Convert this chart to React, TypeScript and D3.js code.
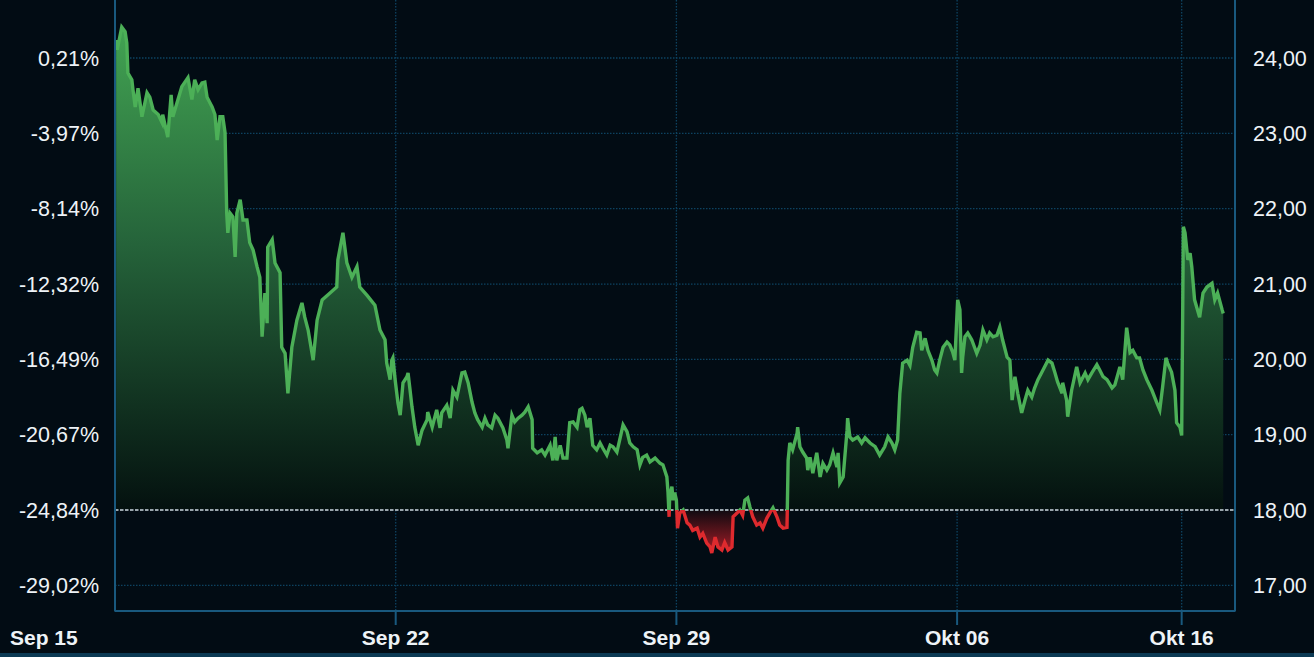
import * as d3 from 'd3'

const W = 1314, H = 657
const M = { top: 0, right: 79, bottom: 46, left: 115 }

// trading-day offset from Sep 15 open, price
const trace: [number, number][] = [
  [0.02,24.24],[0.04,24.11],[0.12,24.41],[0.18,24.35],[0.21,24.20],[0.23,23.80],[0.30,23.71],[0.32,23.58],[0.36,23.35],[0.41,23.60],
  [0.48,23.22],[0.57,23.54],[0.62,23.48],[0.68,23.31],[0.77,23.25],[0.84,23.14],[0.85,23.25],[0.94,22.95],[1.00,23.51],[1.03,23.22],
  [1.19,23.62],[1.30,23.74],[1.37,23.45],[1.42,23.71],[1.48,23.58],[1.55,23.67],[1.60,23.68],[1.64,23.48],[1.73,23.35],[1.78,23.25],
  [1.82,22.91],[1.87,23.22],[1.92,23.22],[1.96,23.01],[1.99,21.94],[2.01,21.68],[2.05,21.94],[2.10,21.89],[2.14,21.36],[2.17,21.94],
  [2.23,22.12],[2.28,21.85],[2.35,21.85],[2.40,21.55],[2.46,21.45],[2.53,21.23],[2.58,21.09],[2.62,20.30],[2.67,20.88],[2.71,20.48],
  [2.72,21.49],[2.80,21.59],[2.85,21.28],[2.94,21.15],[2.97,20.16],[3.03,20.08],[3.08,19.55],[3.15,20.16],[3.24,20.52],[3.33,20.75],
  [3.38,20.56],[3.44,20.39],[3.53,19.99],[3.60,20.52],[3.69,20.79],[3.83,20.88],[3.95,20.96],[3.97,21.32],[4.06,21.68],[4.13,21.28],
  [4.22,21.09],[4.31,21.23],[4.36,20.96],[4.49,20.85],[4.63,20.72],[4.72,20.39],[4.81,20.26],[4.84,19.95],[4.90,19.73],[4.93,19.99],
  [4.95,20.02],[4.99,19.73],[5.04,19.42],[5.08,19.26],[5.13,19.69],[5.20,19.77],[5.22,19.82],[5.25,19.63],[5.29,19.37],[5.34,19.10],
  [5.40,18.86],[5.47,19.06],[5.56,19.20],[5.57,19.30],[5.65,19.10],[5.73,19.33],[5.79,19.09],[5.82,19.29],[5.91,19.39],[5.97,19.22],
  [6.02,19.59],[6.09,19.50],[6.18,19.82],[6.23,19.83],[6.29,19.69],[6.36,19.43],[6.41,19.29],[6.46,19.20],[6.54,19.10],[6.59,19.22],
  [6.64,19.13],[6.71,19.09],[6.77,19.26],[6.82,19.22],[6.91,19.09],[6.98,18.93],[7.00,18.82],[7.07,19.26],[7.12,19.17],[7.18,19.22],
  [7.25,19.26],[7.30,19.30],[7.36,19.37],[7.43,19.20],[7.44,18.82],[7.52,18.76],[7.60,18.80],[7.66,18.73],[7.75,18.86],[7.80,18.66],
  [7.84,18.97],[7.87,18.66],[7.93,18.86],[7.98,18.69],[8.05,18.69],[8.10,19.16],[8.16,19.17],[8.23,19.10],[8.28,19.33],[8.32,19.35],
  [8.37,19.26],[8.41,19.10],[8.46,19.22],[8.51,18.86],[8.58,18.80],[8.64,18.89],[8.69,18.82],[8.76,18.73],[8.82,18.86],[8.87,18.84],
  [8.94,18.77],[8.99,18.93],[9.05,19.13],[9.12,19.04],[9.17,18.89],[9.23,18.84],[9.30,18.80],[9.35,18.60],[9.40,18.70],[9.47,18.73],
  [9.53,18.64],[9.62,18.69],[9.71,18.62],[9.76,18.60],[9.83,18.44],[9.85,18.24],[9.87,17.91],[9.88,18.17],[9.92,18.31],[9.94,18.13],
  [9.97,18.23],[10.00,18.13],[10.02,17.76],[10.06,17.96],[10.12,18.00],[10.19,17.83],[10.24,17.80],[10.29,17.73],[10.37,17.76],[10.42,17.64],
  [10.47,17.69],[10.54,17.56],[10.60,17.51],[10.63,17.43],[10.69,17.64],[10.74,17.51],[10.81,17.47],[10.86,17.57],[10.92,17.47],[10.99,17.51],
  [11.01,17.91],[11.08,17.96],[11.13,18.00],[11.18,17.93],[11.22,18.13],[11.27,18.16],[11.31,18.04],[11.36,17.91],[11.43,17.80],[11.49,17.83],
  [11.54,17.76],[11.61,17.89],[11.67,17.97],[11.72,18.03],[11.79,17.91],[11.84,17.80],[11.90,17.76],[11.97,17.77],[11.99,18.66],[12.02,18.89],
  [12.07,18.80],[12.15,19.02],[12.16,19.10],[12.20,18.84],[12.25,18.77],[12.32,18.69],[12.34,18.53],[12.38,18.70],[12.43,18.49],[12.50,18.76],
  [12.56,18.44],[12.61,18.62],[12.68,18.53],[12.73,18.60],[12.79,18.76],[12.86,18.57],[12.88,18.76],[12.91,18.36],[12.97,18.44],[13.04,19.06],
  [13.05,19.22],[13.09,18.97],[13.14,18.93],[13.23,18.97],[13.30,18.89],[13.36,18.96],[13.45,18.89],[13.54,18.84],[13.62,18.73],[13.71,18.84],
  [13.77,18.97],[13.84,18.89],[13.89,18.80],[13.94,18.93],[13.98,19.55],[14.03,19.95],[14.11,19.99],[14.16,19.92],[14.21,20.16],[14.28,20.36],
  [14.34,20.35],[14.37,20.12],[14.43,20.28],[14.48,20.12],[14.55,19.99],[14.60,19.86],[14.64,19.82],[14.69,19.99],[14.75,20.16],[14.82,20.23],
  [14.87,20.19],[14.92,20.10],[14.96,19.99],[15.01,20.79],[15.05,20.66],[15.08,19.82],[15.10,20.03],[15.14,20.30],[15.19,20.35],[15.26,20.26],
  [15.35,20.08],[15.41,20.19],[15.46,20.39],[15.53,20.26],[15.58,20.35],[15.64,20.30],[15.71,20.32],[15.76,20.43],[15.81,20.26],[15.89,20.03],
  [15.94,19.99],[15.98,19.46],[16.03,19.77],[16.08,19.55],[16.15,19.29],[16.21,19.46],[16.26,19.59],[16.33,19.50],[16.38,19.62],[16.44,19.73],
  [16.53,19.86],[16.62,19.99],[16.69,19.95],[16.74,19.83],[16.79,19.70],[16.87,19.55],[16.88,19.69],[16.95,19.46],[16.97,19.24],[17.04,19.59],
  [17.13,19.90],[17.19,19.69],[17.28,19.82],[17.33,19.73],[17.40,19.82],[17.49,19.93],[17.54,19.86],[17.60,19.77],[17.67,19.73],[17.76,19.62],
  [17.81,19.66],[17.90,19.90],[17.95,19.73],[18.02,20.42],[18.08,20.09],[18.13,20.12],[18.20,20.02],[18.25,20.02],[18.31,19.86],[18.38,19.73],
  [18.47,19.59],[18.56,19.42],[18.61,19.33],[18.66,19.63],[18.72,20.02],[18.75,19.95],[18.82,19.83],[18.88,19.59],[18.91,19.16],[18.97,19.10],
  [19.00,18.99],[19.02,20.79],[19.03,21.76],[19.06,21.68],[19.11,21.32],[19.15,21.41],[19.18,21.23],[19.23,20.79],[19.32,20.56],[19.38,20.88],
  [19.45,20.96],[19.54,21.01],[19.59,20.79],[19.64,20.88],[19.72,20.66],[19.74,20.61],
]

const dateTicks = [0, 5, 10, 15, 19]
const dateLabels = ['Sep 15', 'Sep 22', 'Sep 29', 'Okt 06', 'Okt 16']
const priceTicks = [17, 18, 19, 20, 21, 22, 23, 24]
const refPrice = 23.95   // price that maps to 0 %
const basePrice = 18     // dashed reference line

const comma = (v: number) => v.toFixed(2).replace('.', ',')

export default function App() {
  const x = d3.scaleLinear().domain([0, 19.95]).range([M.left, W - M.right])
  const y = d3.scaleLinear().domain([16.66, 24.77]).range([H - M.bottom, M.top])
  const yb = y(basePrice)
  const top = H - M.bottom

  const area = d3.area<[number, number]>().x(d => x(d[0])).y0(yb).y1(d => y(d[1]))
  const line = d3.line<[number, number]>().x(d => x(d[0])).y(d => y(d[1]))

  const frame = '#19597e'
  const grid = '#0d4260'
  const txt = '#eef3f7'

  return (
    <svg width={W} height={H} style={{ position: 'fixed', left: 0, top: 0, display: 'block', background: '#020c14' }}>
      <defs>
        <linearGradient id="gUp" gradientUnits="userSpaceOnUse" x1={0} x2={0} y1={y(24.4)} y2={yb}>
          <stop offset="0" stopColor="#42a352" />
          <stop offset="0.45" stopColor="#25633a" />
          <stop offset="1" stopColor="#04110f" />
        </linearGradient>
        <linearGradient id="gDn" gradientUnits="userSpaceOnUse" x1={0} x2={0} y1={yb} y2={y(17.43)}>
          <stop offset="0" stopColor="#0f0a10" />
          <stop offset="1" stopColor="#a61d27" />
        </linearGradient>
        <clipPath id="above"><rect x={0} y={0} width={W} height={yb} /></clipPath>
        <clipPath id="below"><rect x={0} y={yb} width={W} height={H - yb} /></clipPath>
      </defs>

      <rect x={0} y={H - 4} width={W} height={4} fill="#0c3a54" />

      {/* grid */}
      {priceTicks.filter(p => p !== basePrice).map(p => (
        <line key={p} x1={M.left} x2={W - M.right} y1={y(p)} y2={y(p)}
          stroke={grid} strokeWidth={1.3} strokeDasharray="1.5 1.5" />
      ))}
      {dateTicks.slice(1).map(t => (
        <line key={t} x1={x(t)} x2={x(t)} y1={0} y2={top}
          stroke={grid} strokeWidth={1.3} strokeDasharray="1.5 1.5" />
      ))}

      {/* areas */}
      <path d={area(trace)!} fill="url(#gUp)" clipPath="url(#above)" />
      <path d={area(trace)!} fill="url(#gDn)" clipPath="url(#below)" />

      <line x1={M.left} x2={W - M.right} y1={yb} y2={yb}
        stroke="#9aa6ad" strokeWidth={2} strokeDasharray="3.5 1.5" />

      <path d={line(trace)!} fill="none" stroke="#4cb057" strokeWidth={3.4} clipPath="url(#above)" />
      <path d={line(trace)!} fill="none" stroke="#de2a2e" strokeWidth={3.4} clipPath="url(#below)" />

      {/* frame */}
      <line x1={M.left} x2={M.left} y1={0} y2={top + 0.5} stroke={frame} strokeWidth={2} />
      <line x1={W - M.right} x2={W - M.right} y1={0} y2={top + 0.5} stroke={frame} strokeWidth={2} />
      <line x1={M.left} x2={W - M.right} y1={top} y2={top} stroke={frame} strokeWidth={2} />
      {dateTicks.slice(1).map(t => (
        <line key={t} x1={x(t)} x2={x(t)} y1={top} y2={top + 14} stroke={frame} strokeWidth={2} />
      ))}

      {/* axis labels */}
      <g fontFamily="'Liberation Sans', Arial, sans-serif" fontSize={21.5} fill={txt}>
        {priceTicks.map(p => (
          <text key={'l' + p} x={99} y={y(p)} dy="0.36em" textAnchor="end">
            {comma((p / refPrice - 1) * 100)}%
          </text>
        ))}
        {priceTicks.map(p => (
          <text key={'r' + p} x={1253} y={y(p)} dy="0.36em">{comma(p)}</text>
        ))}
      </g>
      <g fontFamily="'Liberation Sans', Arial, sans-serif" fontSize={21} fontWeight="bold" fill={txt}>
        {dateTicks.map((t, i) => (
          <text key={t} x={i === 0 ? 10 : x(t)} y={645} textAnchor={i === 0 ? 'start' : 'middle'}>
            {dateLabels[i]}
          </text>
        ))}
      </g>
    </svg>
  )
}
